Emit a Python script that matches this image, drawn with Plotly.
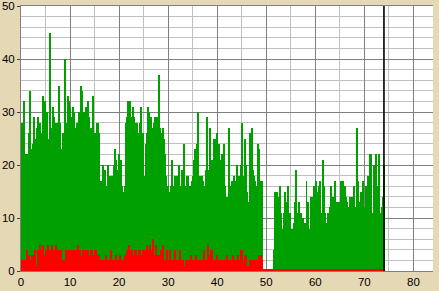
import plotly.graph_objects as go

SAMPLE_STEP = 0.2046
MARKER_X = 74

# green series (per sample), segment 1, gap, segment 2
green_seg1 = [
    28, 28, 32, 22, 20, 22, 16, 26, 34, 23, 19,
    24, 29, 25, 16, 27, 29, 28, 28, 26, 24,
    33, 31, 32, 28, 30, 25, 25, 45, 25, 27,
    31, 29, 27, 28, 25, 28, 35, 28, 23, 15,
    26, 25, 40, 28, 27, 33, 32, 31, 28, 29,
    31, 30, 27, 25, 28, 26, 30, 28, 35, 34,
    27, 30, 29, 31, 27, 32, 29, 26, 27, 25,
    33, 26, 26,
    26, 28, 28, 26, 6, 17, 16, 20, 16, 19, 16, 16,
    20, 16, 18, 16, 18, 16, 20, 23, 21, 19,
    18, 22, 20, 21, 16, 15, 13, 16, 28, 29,
    32, 30, 32, 27, 29, 31, 29, 28, 24, 28,
    25, 26, 28, 31, 26, 26, 18, 5, 24, 26,
    31, 30, 27, 29, 26, 27, 28, 29, 26, 29,
    29, 37, 27, 26, 26, 27, 25, 22, 18, 15,
    16, 15, 15, 16,
    21, 16, 15, 18, 16, 18, 18, 20, 16, 16,
    19, 16, 24, 9, 16, 18, 18, 16, 16, 14,
    17, 18, 21, 23, 20, 24, 30, 17, 18, 17,
    18, 17, 16, 11, 19, 29, 19, 17, 27, 14,
    21, 18, 25, 25, 18, 26, 19, 24, 21, 20,
    22, 18, 24, 16, 13, 14, 4, 27, 16, 15,
    17, 15, 18, 16, 17, 20, 16, 18, 15, 20,
    28, 13, 18, 25, 20,
    15, 13, 10, 26, 22, 27, 19, 18, 17, 16, 14, 24, 23, 17, 16, 17,
]
green_gap = [0, 0, 0, 0, 0, 0, 0, 0, 0, 0, 0]
green_seg2 = [
    4, 15, 13, 15, 12, 14, 16, 11, 8, 6,
    11, 15, 11, 13, 16, 11, 11, 7, 8, 7,
    9, 13, 19, 10, 11, 13, 8, 11, 10, 10,
    9, 9, 17, 13, 8, 8, 14, 10, 14, 16,
    14, 17, 14, 15, 16, 17, 11,
    8, 21, 16, 11, 8, 9, 11, 10, 12, 16,
    7, 14, 11, 17, 12, 13, 13, 12, 13, 17,
    14, 17, 15, 16, 14, 13, 12, 12, 14, 14,
    9, 14, 16, 9, 12, 27, 17, 13, 13, 15,
    13, 17, 10, 12, 16, 13, 18, 18, 22, 22,
    10, 11, 20, 18, 22, 11, 16, 22, 10, 11,
    12, 14, 20,
]

# red series (per sample)
red_seg1 = [
    2, 2, 2, 2, 2, 4, 3, 3, 2, 2,
    3, 3, 3, 4, 1, 1, 4, 4, 5, 4,
    4, 5, 3, 3, 4, 4, 5, 4, 4, 3,
    5, 4, 4, 4, 5, 4, 4, 4, 4, 4,
    2, 2, 2, 2, 4, 4, 3, 4, 4, 4,
    3, 4, 4, 3, 4, 4, 5, 4, 4, 3,
    3, 4, 4, 3, 4, 4, 4, 3, 3, 4,
    4, 3, 3, 4, 4, 3, 3, 3, 0, 2,
    2, 2, 2, 2, 3, 2, 2, 2, 2, 4,
    2, 2, 2, 2, 3, 2, 2, 2, 3, 2,
    2, 2, 2, 3, 3, 4, 4, 5, 4, 4,
    4, 3, 3, 4, 4, 3, 3, 4, 4, 3,
    3, 4, 4, 0, 4, 5, 4, 4, 5, 4,
    4, 6, 3, 3, 5, 3, 3, 3, 2, 4,
    4, 5, 2, 2, 2, 4, 2, 2, 4, 2,
    2, 2, 2, 4, 2, 2, 2, 2, 4, 2,
    2, 2, 1, 1, 2, 2, 2, 2, 2, 3,
    2, 2, 2, 2, 3, 2, 2, 2, 2, 2,
    2, 2, 4, 2, 2, 2, 5, 3, 3, 4,
    4, 2, 2, 2, 2, 3, 2, 2, 2, 2,
    1, 2, 2, 2, 2, 3, 1, 2, 2, 2,
    2, 3, 2, 2, 2, 2, 3, 2, 2, 4,
    4, 2, 2, 3,
    3, 1, 1, 1, 2, 2, 2, 2, 2, 2, 2, 2, 2, 3, 3, 3, 2,
]
red_rest = [
    0.2, 0.2, 0.2, 0.2, 0.2, 0.2, 0.2, 0.2, 0.2, 0.2, 0.2,
    0.2, 0.2, 0.2, 0.2, 0.2, 0.2, 0.2, 0.2, 0.2, 0.2,
    0.2, 0.2, 0.2, 0.2, 0.2, 0.2, 0.2, 0.2, 0.2, 0.2,
    0.2, 0.2, 0.2, 0.2, 0.2, 0.2, 0.2, 0.2, 0.2, 0.2,
    0.2, 0.2, 0.2, 0.2, 0.2, 0.2, 0.2, 0.2, 0.2, 0.2,
    0.2, 0.2, 0.2, 0.2, 0.2, 0.2, 0.2, 0.2, 0.2, 0.2,
    0.2, 0.2, 0.2, 0.2, 0.2, 0.2, 0.2, 0.2, 0.2, 0.2,
    0.2, 0.2, 0.2, 0.2, 0.2, 0.2, 0.2, 0.2, 0.2, 0.2,
    0.2, 0.2, 0.2, 0.2, 0.2, 0.2, 0.2, 0.2, 0.2, 0.2,
    0.2, 0.2, 0.2, 0.2, 0.2, 0.2, 0.2, 0.2, 0.2, 0.2,
    0.2, 0.2, 0.2, 0.2, 0.2, 0.2, 0.2, 0.2, 0.2, 0.2,
    0.2, 0.2, 0.2, 0.2, 0.2, 0.2, 0.2, 0.2, 0.2, 0.2,
]

x_ticks = [0, 10, 20, 30, 40, 50, 60, 70, 80]
y_ticks = [0, 10, 20, 30, 40, 50]

green = green_seg1 + green_gap + green_seg2
red = red_seg1 + red_rest
xg = [i * SAMPLE_STEP for i in range(len(green))]
xr = [i * SAMPLE_STEP for i in range(len(red))]

fig = go.Figure()
fig.add_trace(go.Bar(x=xg, y=green, width=SAMPLE_STEP, offset=0,
                     marker=dict(color="#00A000", line=dict(width=0))))
fig.add_trace(go.Bar(x=xr, y=red, width=SAMPLE_STEP, offset=0,
                     marker=dict(color="#FF0000", line=dict(width=0))))

fig.add_shape(type="line", x0=MARKER_X, x1=MARKER_X, y0=0, y1=1, yref="paper",
              xref="x", line=dict(color="black", width=1.6))

fig.update_layout(
    width=439, height=291,
    margin=dict(l=21, r=6, t=6, b=20, autoexpand=False),
    paper_bgcolor="#E5D8B4",
    plot_bgcolor="white",
    barmode="overlay",
    bargap=0,
    showlegend=False,
    font=dict(family="Liberation Sans, Arial, sans-serif", size=11.5, color="black"),
    xaxis=dict(range=[0, 84], tickvals=x_ticks, showgrid=True, gridcolor="#808080",
               gridwidth=1, zeroline=False, showline=True, linecolor="#808080",
               linewidth=1, mirror=True, ticks="", automargin=False,
               minor=dict(dtick=5, tick0=0, showgrid=True, gridcolor="#C0C0C0", ticks="")),
    yaxis=dict(range=[0, 50], tickvals=y_ticks, showgrid=True, gridcolor="#808080",
               gridwidth=1, zeroline=False, showline=True, linecolor="#808080",
               linewidth=1, ticks="outside", ticklen=3, tickcolor="#404040",
               automargin=False,
               minor=dict(dtick=2, tick0=0, showgrid=True, gridcolor="#C0C0C0", ticks="")),
)

fig.write_html("out.html")
